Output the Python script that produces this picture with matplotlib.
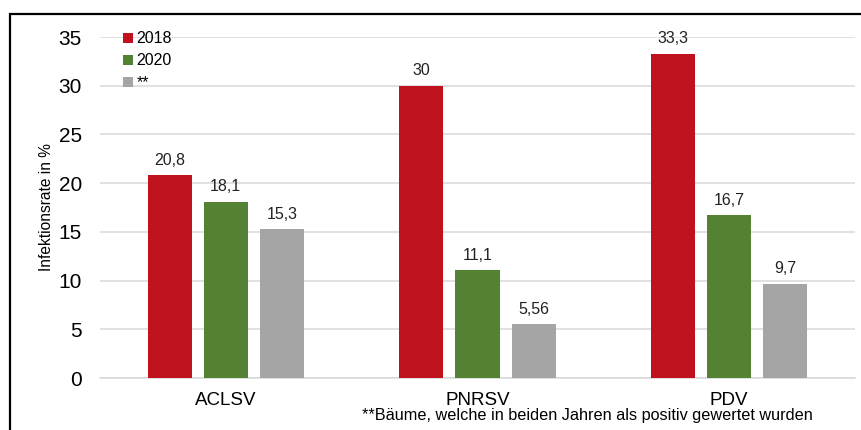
import numpy as np
import matplotlib.pyplot as plt
from matplotlib.patches import Rectangle

plt.rcParams['font.family'] = ['Liberation Sans', 'DejaVu Sans']

# Infection rates per virus and year
viruses = ["ACLSV", "PNRSV", "PDV"]
rate_2018 = [20.8, 30, 33.3]
rate_2020 = [18.1, 11.1, 16.7]
rate_both = [15.3, 5.56, 9.7]
series_names = ["2018", "2020", "**"]
colors = ["#C0111F", "#548235", "#A5A5A5"]


def fmt(v):
    # German decimal comma
    return ("%g" % v).replace(".", ",")


fig = plt.figure(figsize=(8.61, 4.3), dpi=100)
ax = fig.add_axes([0.1161, 0.1209, 0.877, 0.793])

x = np.arange(len(viruses))
width = 0.175
step = 0.223
for i, (vals, name, c) in enumerate(zip([rate_2018, rate_2020, rate_both], series_names, colors)):
    bars = ax.bar(x + (i - 1) * step, vals, width, color=c, label=name, zorder=3)
    for b, v in zip(bars, vals):
        ax.text(b.get_x() + b.get_width() / 2, v + 0.75, fmt(v),
                ha="center", va="bottom", fontsize=11.5, color="#222222")

ax.set_xlim(-0.5, 2.5)
ax.set_ylim(0, 35)
ax.set_yticks(range(0, 36, 5))
ax.set_xticks(x)
ax.set_xticklabels(viruses, fontsize=13.5)
ax.tick_params(axis="y", labelsize=15, length=0, pad=13)
ax.tick_params(axis="x", length=0, pad=10)
ax.grid(axis="y", color="#D9D9D9", linewidth=1.1, zorder=0)
for s in ["top", "right", "left"]:
    ax.spines[s].set_visible(False)
ax.spines["bottom"].set_color("#D9D9D9")
ax.spines["bottom"].set_linewidth(1.1)
ax.set_ylabel("Infektionsrate in %", fontsize=11.2, labelpad=3)

ax.legend(loc="upper left", bbox_to_anchor=(0.022, 1.035), frameon=False,
          fontsize=11.5, handlelength=0.6, handleheight=0.6, handletextpad=0.25,
          labelspacing=0.43, borderaxespad=0)

fig.text(0.682, 0.033, "**Bäume, welche in beiden Jahren als positiv gewertet wurden",
         ha="center", va="center", fontsize=11.7)

# outer frame around the chart
fig.patches.append(Rectangle((0.0116, -0.05), 1.0, 1.0175, transform=fig.transFigure,
                             fill=False, edgecolor="black", linewidth=1.6))

fig.savefig("out.png", dpi=100)
